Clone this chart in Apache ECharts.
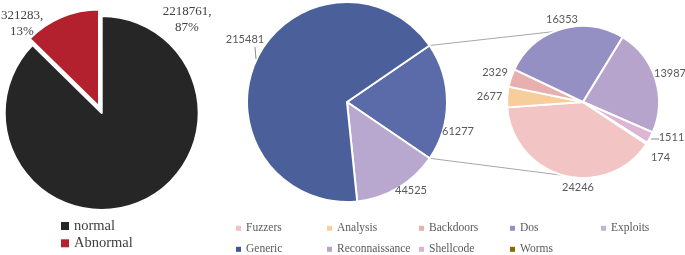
<!DOCTYPE html>
<html><head><meta charset="utf-8">
<script src="https://cdn.jsdelivr.net/npm/echarts@6/dist/echarts.min.js"></script>
<style>html,body{margin:0;padding:0;background:#fff}#c{width:685px;height:255px}</style>
</head><body><div id="c"></div>
<script>
// ---- data ----
const binaryNames = ['normal', 'Abnormal'];
const binaryValues = [2218761, 321283];
const mainNames = ['Other', 'Exploits', 'Generic'];
const mainValues = [61277, 44525, 215481];
const otherNames = ['Fuzzers', 'Analysis', 'Backdoors', 'Dos', 'Reconnaissance', 'Shellcode', 'Worms'];
const otherValues = [24246, 2677, 2329, 16353, 13987, 1511, 174];
const legendRows = [['Fuzzers', 'Analysis', 'Backdoors', 'Dos', 'Exploits'], ['Generic', 'Reconnaissance', 'Shellcode', 'Worms']];

// ---- styles / layout ----
const colors = {
  normal: '#262626', Abnormal: '#b3202e',
  Other: '#5b6aa8', Exploits: '#b8a8d0', Generic: '#4b609b',
  Fuzzers: '#f2c4c4', Analysis: '#f8cd9c', Backdoors: '#e8afaf', Dos: '#9490c4',
  Reconnaissance: '#b6a4cd', Shellcode: '#dcb6d4', Worms: '#8a6a00'
};
const legendColors = Object.assign({}, colors, {Exploits: '#c4b4dc', Generic: '#3f5592', Fuzzers: '#f4c0c0', Analysis: '#fbcf9c', Shellcode: '#dfb0d2'});
const leftCenter = [101.7, 113], leftR = 97, explodeOffset = 7;
const midCenter = [347, 102], midR = 100, midStart = 34.4;
const rightCenter = [583, 102], rightR = 76, rightStart = -33.5;
const binaryLabelPos = [[187, 20], [22, 24]];
const mainLabelPos = [[458, 131], [411, 190], [245, 39]];
const otherLabelPos = [[578, 187], [489.5, 96], [495, 72], [562, 19], [670, 73], [671.5, 137], [660.5, 157]];
const leaderLines = [[[255, 47], [256, 59]], [[651, 139], [659, 139]]];
const connectorAnglesRight = [112, -105];
const legendColLeft = [236, 327, 419, 510, 601];
const legendRowTop = [221.3, 242.3];

const sansLabel = {fontFamily: 'Lato', fontSize: 11, color: '#595959'};
const serif = 'Liberation Serif';

function layoutFrom(pos) {
  return function (p) {
    return {x: pos[p.dataIndex][0], y: pos[p.dataIndex][1], align: 'center', verticalAlign: 'middle'};
  };
}
function pt(c, r, deg) { const a = deg * Math.PI / 180; return [c[0] + r * Math.cos(a), c[1] - r * Math.sin(a)]; }

// exploded "Abnormal" slice: shift along its mid angle
const binTotal = binaryValues[0] + binaryValues[1];
const abnMid = 90 - (binaryValues[0] + binaryValues[1] / 2) / binTotal * 360;
const explodedCenter = pt(leftCenter, explodeOffset, abnMid);

// connector lines between middle pie's "Other" slice and the secondary pie
const otherSweep = mainValues[0] / mainValues.reduce((a, b) => a + b, 0) * 360;
const midAngles = [midStart, midStart - otherSweep];
const graphics = midAngles.map((a, i) => {
  const p1 = pt(midCenter, midR, a), p2 = pt(rightCenter, rightR, connectorAnglesRight[i]);
  return {type: 'line', shape: {x1: p1[0], y1: p1[1], x2: p2[0], y2: p2[1]}, style: {stroke: '#a6a6a6', lineWidth: 1}, z: 0};
});
leaderLines.forEach(l => graphics.push({type: 'line', shape: {x1: l[0][0], y1: l[0][1], x2: l[1][0], y2: l[1][1]}, style: {stroke: '#8c8c8c', lineWidth: 1}, z: 10}));

const legends = binaryNames.map((n, i) => ({
  left: 61, top: 218 + i * 17.3, padding: 0, itemWidth: 8, itemHeight: 8, icon: 'rect',
  data: [{name: n, itemStyle: {color: legendColors[n], borderWidth: 0}}],
  textStyle: {fontFamily: serif, fontSize: 14.5, color: '#404040', lineHeight: 16}
}));
legendRows.forEach((row, r) => row.forEach((n, c) => legends.push({
  left: legendColLeft[c], top: legendRowTop[r], padding: 0, itemWidth: 5, itemHeight: 5, icon: 'rect',
  data: [{name: n, itemStyle: {color: legendColors[n], borderWidth: 0}}],
  textStyle: {fontFamily: serif, fontSize: 11.5, color: '#595959', lineHeight: 14}
})));

const binaryLabel = {show: true, position: 'inside', formatter: '{c},\n{d}%', fontFamily: serif, fontSize: 13, color: '#404040', lineHeight: 16, align: 'center'};

const chart = echarts.init(document.getElementById('c'), null, {renderer: 'canvas'});
chart.setOption({
  animation: false,
  legend: legends,
  graphic: graphics,
  series: [
    {
      type: 'pie', center: leftCenter, radius: leftR, startAngle: 90, clockwise: true, percentPrecision: 0,
      itemStyle: {borderColor: '#fff', borderWidth: 2},
      label: binaryLabel, labelLine: {show: false},
      labelLayout: layoutFrom(binaryLabelPos),
      emphasis: {disabled: true},
      data: binaryNames.map((n, i) => i === 0
        ? {name: n, value: binaryValues[i], itemStyle: {color: colors[n]}}
        : {name: n, value: binaryValues[i], itemStyle: {color: 'transparent', borderWidth: 0}, label: {show: false}})
    },
    {
      type: 'pie', center: explodedCenter, radius: leftR, startAngle: 90, clockwise: true, percentPrecision: 0,
      itemStyle: {borderColor: '#fff', borderWidth: 2},
      label: binaryLabel, labelLine: {show: false},
      labelLayout: layoutFrom(binaryLabelPos),
      emphasis: {disabled: true},
      data: binaryNames.map((n, i) => i === 1
        ? {name: n, value: binaryValues[i], itemStyle: {color: colors[n]}}
        : {name: n, value: binaryValues[i], itemStyle: {color: 'transparent', borderWidth: 0}, label: {show: false}})
    },
    {
      type: 'pie', center: midCenter, radius: midR, startAngle: midStart, clockwise: true,
      itemStyle: {borderColor: '#fff', borderWidth: 2},
      label: Object.assign({show: true, position: 'inside', formatter: '{c}'}, sansLabel),
      labelLine: {show: false},
      labelLayout: layoutFrom(mainLabelPos),
      emphasis: {disabled: true},
      data: mainNames.map((n, i) => ({name: n, value: mainValues[i], itemStyle: {color: colors[n]}}))
    },
    {
      type: 'pie', center: rightCenter, radius: rightR, startAngle: rightStart, clockwise: true,
      itemStyle: {borderColor: '#fff', borderWidth: 2},
      label: Object.assign({show: true, position: 'inside', formatter: '{c}'}, sansLabel),
      labelLine: {show: false},
      labelLayout: layoutFrom(otherLabelPos),
      emphasis: {disabled: true},
      data: otherNames.map((n, i) => ({name: n, value: otherValues[i], itemStyle: {color: colors[n]}}))
    }
  ]
});
</script></body></html>
